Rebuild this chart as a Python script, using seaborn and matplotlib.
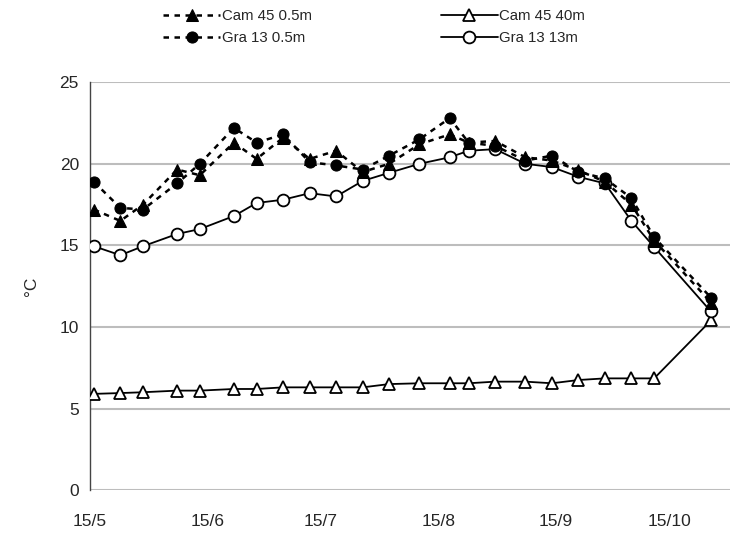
import matplotlib
matplotlib.use("Agg")
import matplotlib.pyplot as plt
import matplotlib.dates as mdates
from matplotlib.ticker import FuncFormatter
import seaborn as sns
import pandas as pd

# sampling dates (~weekly)
dates = pd.to_datetime([
    "2005-05-16", "2005-05-23", "2005-05-29", "2005-06-07", "2005-06-13",
    "2005-06-22", "2005-06-28", "2005-07-05", "2005-07-12", "2005-07-19",
    "2005-07-26", "2005-08-02", "2005-08-10", "2005-08-18", "2005-08-23",
    "2005-08-30", "2005-09-07", "2005-09-14", "2005-09-21", "2005-09-28",
    "2005-10-05", "2005-10-11", "2005-10-26",
])

cam45_05 = [17.2, 16.5, 17.5, 19.65, 19.3, 21.3, 20.3, 21.6, 20.3, 20.8, 19.5, 20.0,
            21.2, 21.8, 21.3, 21.4, 20.4, 20.2, 19.6, 18.9, 17.5, 15.3, 11.5]
gra13_05 = [18.9, 17.3, 17.2, 18.8, 20.0, 22.2, 21.3, 21.8, 20.1, 19.9, 19.65, 20.5,
            21.5, 22.8, 21.3, 21.1, 20.2, 20.5, 19.5, 19.1, 17.9, 15.5, 11.8]
cam45_40 = [5.9, 5.95, 6.0, 6.1, 6.1, 6.2, 6.2, 6.3, 6.3, 6.3, 6.3, 6.5,
            6.55, 6.55, 6.55, 6.65, 6.65, 6.55, 6.75, 6.85, 6.85, 6.85, 10.4]
gra13_13 = [14.95, 14.4, 14.95, 15.7, 16.0, 16.8, 17.6, 17.8, 18.2, 18.0, 18.95, 19.45,
            20.0, 20.4, 20.8, 20.9, 20.0, 19.8, 19.2, 18.8, 16.5, 14.9, 10.95]

tick_dates = pd.to_datetime(["2005-05-15", "2005-06-15", "2005-07-15",
                             "2005-08-15", "2005-09-15", "2005-10-15"])

sns.set_style("white")
plt.rcParams['font.family'] = ['Liberation Sans', 'DejaVu Sans']

fig = plt.figure(figsize=(7.38, 5.41), dpi=100)
ax = fig.add_axes([0.122, 0.094, 0.867, 0.754])

# solid series first, dashed surface series on top
sns.lineplot(x=dates, y=cam45_40, ax=ax, color="black", lw=1.3, linestyle="-",
             marker="^", markersize=8, mfc="white", mec="black", mew=1.3,
             label="Cam 45 40m", zorder=3)
sns.lineplot(x=dates, y=gra13_13, ax=ax, color="black", lw=1.3, linestyle="-",
             marker="o", markersize=8.5, mfc="white", mec="black", mew=1.3,
             label="Gra 13 13m", zorder=3)
sns.lineplot(x=dates, y=gra13_05, ax=ax, color="black", lw=1.8, linestyle=(0, (2.2, 2.2)),
             marker="o", markersize=8, mfc="black", mec="black",
             label="Gra 13 0.5m", zorder=4)
sns.lineplot(x=dates, y=cam45_05, ax=ax, color="black", lw=1.8, linestyle=(0, (2.2, 2.2)),
             marker="^", markersize=8, mfc="black", mec="black",
             label="Cam 45 0.5m", zorder=5)

ax.set_ylim(0, 25)
ax.set_yticks([0, 5, 10, 15, 20, 25])
ax.set_xlim(pd.Timestamp("2005-05-15"), pd.Timestamp("2005-10-31"))
ax.set_xticks(tick_dates)
ax.xaxis.set_major_formatter(FuncFormatter(
    lambda v, p: f"{mdates.num2date(v).day}/{mdates.num2date(v).month}"))

ax.grid(axis="y", color="#bdbdbd", lw=1.5)
ax.grid(axis="x", visible=False)
for s in ["top", "right", "bottom"]:
    ax.spines[s].set_visible(False)
ax.spines["left"].set_color("#444444")
ax.spines["left"].set_linewidth(1.0)
ax.tick_params(axis="y", length=5, width=1, color="#444444", labelsize=12.5, pad=3)
ax.tick_params(axis="x", length=0, labelsize=12.5, pad=17)
ax.set_xlabel("")
ax.set_ylabel("°C", fontsize=12.5, labelpad=15)

handles, labels = ax.get_legend_handles_labels()
order = ["Cam 45 0.5m", "Gra 13 0.5m", "Cam 45 40m", "Gra 13 13m"]
hmap = dict(zip(labels, handles))
ax.legend([hmap[k] for k in order], order, ncol=2, frameon=False, fontsize=10.8,
          handlelength=3.8, columnspacing=8.6, handletextpad=0.1, labelspacing=0.55,
          loc="center", bbox_to_anchor=(0.507, 0.95), bbox_transform=fig.transFigure)

fig.savefig("out.png", dpi=100)
